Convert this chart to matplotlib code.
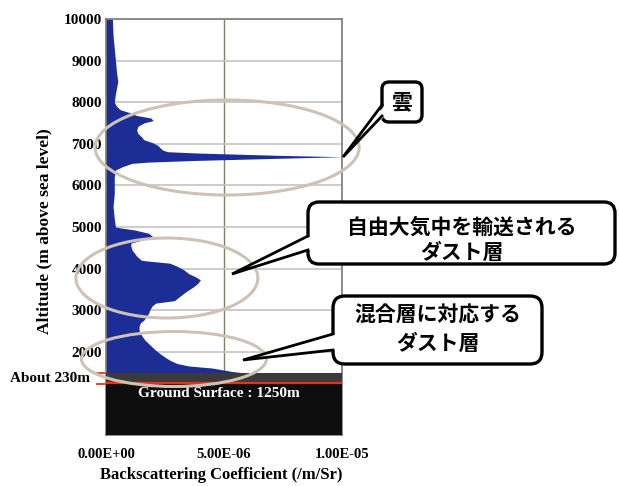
import matplotlib.pyplot as plt
from matplotlib.patches import Ellipse, FancyBboxPatch, Polygon
import matplotlib.transforms as mtransforms

# 後方散乱係数の鉛直プロファイル (値は 1e-6 /m/Sr 単位)
altitude = [1470, 1530, 1610, 1660, 1720, 1800, 1870, 1950, 2040, 2120,
            2200, 2280, 2360, 2440, 2520, 2600, 2690, 2760, 2840, 2920,
            3000, 3100, 3170, 3230, 3320, 3450, 3560, 3650, 3730, 3800,
            3880, 3970, 4060, 4130, 4180, 4200, 4300, 4450, 4550, 4610,
            4700, 4760, 4850, 4930, 4980, 5000, 5200, 5500, 5800, 6000,
            6200, 6370, 6450, 6530, 6560, 6600, 6640, 6690, 6720, 6750,
            6780, 6810, 6850, 6900, 6960, 7020, 7100, 7170, 7250, 7330,
            7420, 7500, 7560, 7620, 7680, 7750, 7820, 7900, 8000, 8200,
            8500, 8700, 9000, 9300, 9600, 10000]
backscatter = [6.2, 5.3, 4.5, 3.5, 3.0, 2.7, 2.5, 2.3, 2.1, 1.95,
               1.8, 1.65, 1.55, 1.45, 1.4, 1.4, 1.45, 1.6, 1.7, 1.8,
               1.85, 1.95, 2.1, 2.9, 3.1, 3.4, 3.7, 3.9, 4.0, 3.8,
               3.5, 3.3, 3.0, 2.7, 1.8, 1.5, 1.3, 1.1, 1.05, 1.05,
               1.6, 2.0, 1.8, 1.2, 0.6, 0.4, 0.35, 0.3, 0.35, 0.35,
               0.35, 0.4, 0.7, 1.1, 1.8, 3.8, 6.5, 10.0, 7.5, 5.6,
               3.8, 2.6, 2.4, 2.3, 2.2, 2.0, 1.6, 1.5, 1.35, 1.3,
               1.35, 1.6, 2.0, 1.9, 1.3, 1.0, 0.6, 0.45, 0.35, 0.4,
               0.5, 0.45, 0.4, 0.35, 0.3, 0.27]
backscatter = [v * 1e-6 for v in backscatter]

ground = 1250
blind_top = 1480
yticks = [2000, 3000, 4000, 5000, 6000, 7000, 8000, 9000, 10000]
xticks = [0, 5e-6, 1e-5]
xtick_labels = ['0.00E+00', '5.00E-06', '1.00E-05']

serif = 'Liberation Serif'
cjk = ['Noto Sans CJK JP', 'DejaVu Sans']

fig = plt.figure(figsize=(6.19, 4.86), dpi=100)
ax = fig.add_axes([106/619, 1-435/486, 236/619, 416/486])

ax.fill_betweenx(altitude, 0, backscatter, color='#1c2d96', lw=0, zorder=2)
ax.axhspan(ground, blind_top, color='#3a3a3a', lw=0, zorder=3)
ax.axhspan(0, ground, color='#0e0e0e', lw=0, zorder=3)
ax.axhline(ground, color='#e8321e', lw=1.6, zorder=4)

ax.set_xlim(0, 1e-5)
ax.set_ylim(0, 10000)
ax.set_axisbelow(True)
ax.set_xticks(xticks)
ax.set_xticklabels(xtick_labels, fontfamily=serif, fontweight='bold', fontsize=10.5)
ax.set_yticks(yticks)
ax.set_yticklabels([str(v) for v in yticks], fontfamily=serif, fontweight='bold', fontsize=11)
ax.yaxis.grid(True, color='#c4c4c4', lw=1.2)
ax.xaxis.grid(True, color='#7d806a', lw=1)
ax.tick_params(length=0)
ax.tick_params(axis='x', pad=9)
ax.tick_params(axis='y', pad=3)
for s in ax.spines.values():
    s.set_color('#7a7a7a')
    s.set_linewidth(1.2)

ax.set_ylabel('Altitude (m above sea level)', fontfamily=serif, fontweight='bold', fontsize=12.5)
ax.yaxis.set_label_coords(-0.26, 0.49)
ax.yaxis.label.set_va('center')
ax.set_xlabel('Backscattering Coefficient (/m/Sr)', fontfamily=serif, fontweight='bold', fontsize=12)
ax.xaxis.set_label_coords(0.49, -0.096)
ax.xaxis.label.set_va('center')

ax.text(4.8e-6, 990, 'Ground Surface : 1250m', color='white', fontfamily=serif,
        fontweight='bold', fontsize=11, ha='center', va='center', zorder=5)

# 不感帯の目印
trans = mtransforms.blended_transform_factory(ax.transAxes, ax.transData)
for yv in [ground - 20, blind_top]:
    ax.plot([-0.04, 0], [yv, yv], color='#e8321e', lw=1.3, transform=trans, clip_on=False)
ax.text(-0.068, 1370, 'About 230m', transform=trans, ha='right', va='center',
        fontfamily=serif, fontweight='bold', fontsize=11)

# 強調の楕円
ell_col = '#cdc2b4'
for cx, cy, w, h in [(5.13e-6, 6911, 11.19e-6, 2284),
                     (2.58e-6, 3774, 7.71e-6, 1923),
                     (2.88e-6, 1827, 7.84e-6, 1322)]:
    ax.add_patch(Ellipse((cx, cy), w, h, fill=False, ec=ell_col, lw=2.2,
                         clip_on=False, zorder=6))

# 吹き出し (ピクセル座標のオーバーレイ)
ov = fig.add_axes([0, 0, 1, 1], facecolor='none')
ov.set_xlim(0, 619)
ov.set_ylim(486, 0)
ov.axis('off')


def callout(x0, y0, x1, y1, r, b1, b2, tip):
    ov.add_patch(FancyBboxPatch((x0, y0), x1 - x0, y1 - y0,
                                boxstyle='round,pad=0,rounding_size=%d' % r,
                                fc='white', ec='black', lw=2.4, zorder=2))
    ov.add_patch(Polygon([(x0 + 3, b1), (x0 + 3, b2), tip], closed=True,
                         fc='white', ec='none', zorder=3))
    ov.plot([x0, tip[0], x0], [b1, tip[1], b2], color='black', lw=2,
            solid_joinstyle='miter', zorder=4)


callout(382, 82, 422, 122, 7, 105, 116, (343, 157))
callout(308, 202, 615, 264, 11, 236, 250, (232, 274))
callout(333, 296, 542, 364, 12, 334, 350, (243, 360))

ov.text(402, 102, '雲', family=cjk, fontweight='bold', fontsize=15,
        ha='center', va='center', zorder=5)
ov.text(462, 227, '自由大気中を輸送される', family=cjk, fontweight='bold', fontsize=15,
        ha='center', va='center', zorder=5)
ov.text(462, 252, 'ダスト層', family=cjk, fontweight='bold', fontsize=15,
        ha='center', va='center', zorder=5)
ov.text(438, 315, '混合層に対応する', family=cjk, fontweight='bold', fontsize=15,
        ha='center', va='center', zorder=5)
ov.text(438, 343, 'ダスト層', family=cjk, fontweight='bold', fontsize=15,
        ha='center', va='center', zorder=5)

fig.savefig('out.png', dpi=100)
